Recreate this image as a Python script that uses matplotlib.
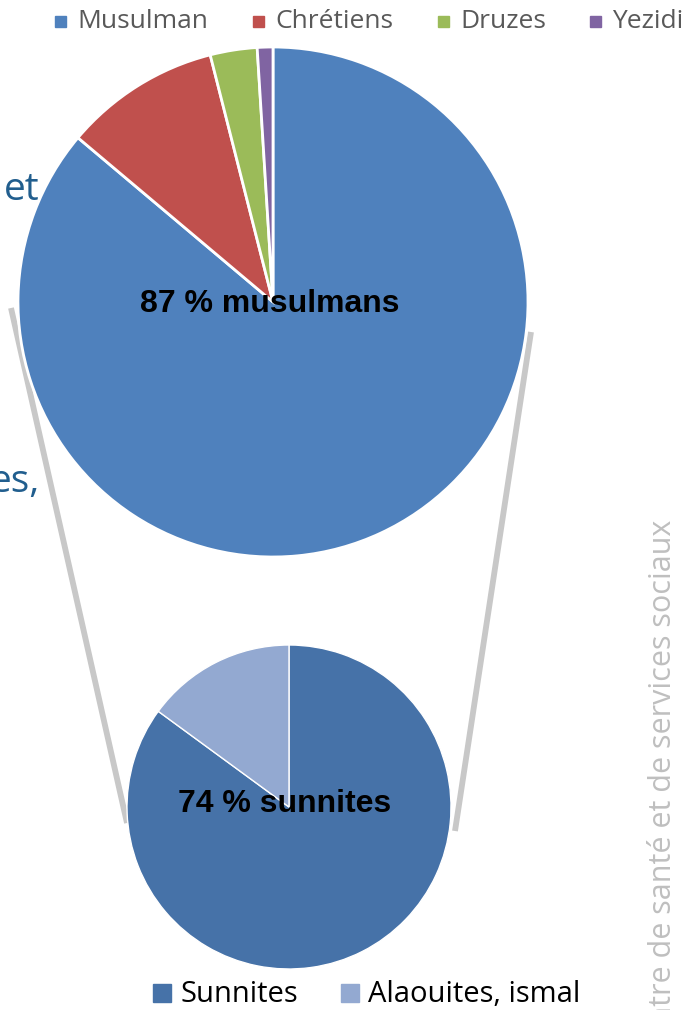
import matplotlib
matplotlib.use("Agg")
import matplotlib.pyplot as plt
from matplotlib.patches import Rectangle

# religions (big pie) and muslim split (small pie)
religions = ["Musulman", "Chrétiens", "Druzes", "Yezidi"]
religion_share = [87, 10, 3, 1]
religion_colors = ["#4F81BD", "#C0504D", "#9BBB59", "#8064A2"]

muslims = ["Sunnites", "Alaouites, ismal"]
muslim_share = [74, 13]
muslim_colors = ["#4672A8", "#93A9D1"]

big_label = "87 % musulmans"
small_label = "74 % sunnites"

W, H = 687, 1010
fig = plt.figure(figsize=(W / 100, H / 100), dpi=100)
ax = fig.add_axes([0, 0, 1, 1])


def py(y):
    # pixel row (from top) -> data y
    return H - y


# grey connector lines behind the pies
ax.plot([11, 127], [py(308), py(823)], color="#C8C8C8", lw=4.2,
        solid_capstyle="butt", zorder=1)
ax.plot([531, 455], [py(332), py(831)], color="#C8C8C8", lw=4.2,
        solid_capstyle="butt", zorder=1)

big_c = (273, py(302))
ax.pie(religion_share, colors=religion_colors, startangle=90,
       counterclock=False, center=big_c, radius=255,
       wedgeprops=dict(edgecolor="white", linewidth=2, zorder=2))

small_c = (289, py(807))
ax.pie(muslim_share, colors=muslim_colors, startangle=90,
       counterclock=False, center=small_c, radius=162,
       wedgeprops=dict(edgecolor="white", linewidth=1, zorder=2))

ax.text(270, py(304), big_label, ha="center", va="center", fontsize=23,
        fontweight="bold", family="Liberation Sans", color="black", zorder=5)
ax.text(285, py(804), small_label, ha="center", va="center", fontsize=23,
        fontweight="bold", family="Liberation Sans", color="black", zorder=5)

# top legend
top_sq_x = [55, 253, 438, 590]
for name, col, x in zip(religions, religion_colors, top_sq_x):
    ax.add_patch(Rectangle((x, py(27)), 11, 11, color=col, zorder=5))
    ax.text(x + 22, py(21), name, ha="left", va="center", fontsize=19,
            family="Open Sans", color="#595959", zorder=5)

# bottom legend
bot_sq_x = [153, 341]
for name, col, x in zip(muslims, muslim_colors, bot_sq_x):
    ax.add_patch(Rectangle((x, py(1002)), 18, 18, color=col, zorder=5))
    ax.text(x + 27, py(994), name, ha="left", va="center", fontsize=21,
            family="Open Sans", color="black", zorder=5)

# background slide fragments
ax.text(40, py(190), "et", ha="right", va="center", fontsize=28,
        family="Open Sans", color="#215E8E", zorder=0)
ax.text(40, py(482), "es,", ha="right", va="center", fontsize=28,
        family="Open Sans", color="#215E8E", zorder=0)
ax.text(663, py(520), "Centre de santé et de services sociaux", rotation=90,
        ha="center", va="top", fontsize=22, family="Open Sans",
        color="#BFBFBF", zorder=0)

ax.set_xlim(0, W)
ax.set_ylim(0, H)
ax.set_aspect("auto")
ax.axis("off")

fig.savefig("out.png", dpi=100)
